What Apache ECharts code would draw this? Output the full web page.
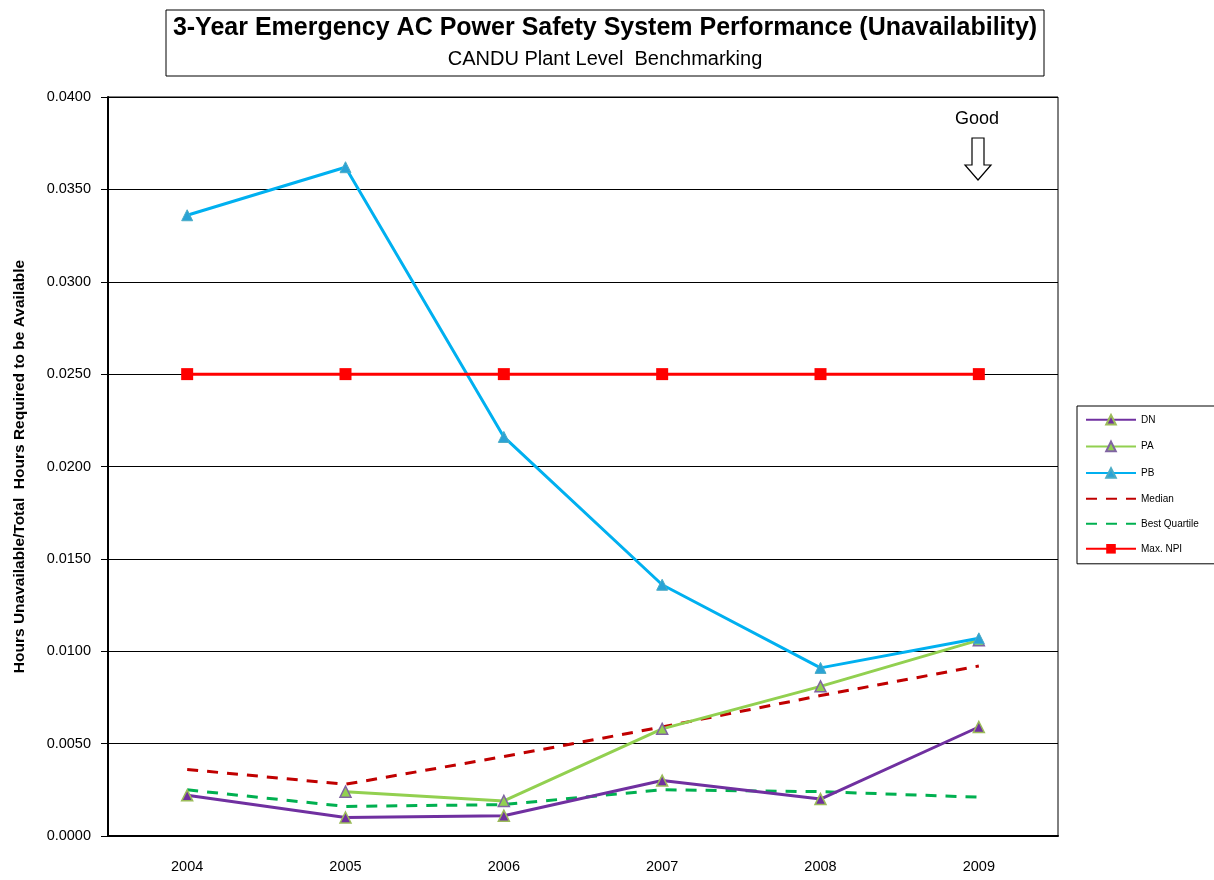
<!DOCTYPE html>
<html>
<head>
<meta charset="utf-8">
<script src="https://cdn.jsdelivr.net/npm/echarts@6/dist/echarts.min.js"></script>
<style>
  html, body { margin: 0; padding: 0; background: #fff; }
  #chart { width: 1214px; height: 880px; }
</style>
</head>
<body>
<div id="chart"></div>
<script>
// categories and series
var years = ['2004', '2005', '2006', '2007', '2008', '2009'];
var dn = [0.0022, 0.0010, 0.0011, 0.0030, 0.0020, 0.0059];
var pa = [null, 0.0024, 0.0019, 0.0058, 0.0081, 0.0106];
var pb = [0.0336, 0.0362, 0.0216, 0.0136, 0.0091, 0.0107];
var median = [0.0036, 0.0028, 0.0043, 0.0059, 0.0076, 0.0092];
var bestQuartile = [0.0025, 0.0016, 0.0017, 0.0025, 0.0024, 0.0021];
var maxNpi = [0.025, 0.025, 0.025, 0.025, 0.025, 0.025];

var FONT = '"Liberation Sans", "Noto Sans", sans-serif';

var myChart = echarts.init(document.getElementById('chart'));

// legend entries; the dashed ones show no marker
var hideMark = { opacity: 0, color: 'rgba(0,0,0,0)', borderWidth: 0 };

var option = {
    animation: false,
    textStyle: { fontFamily: FONT },
    grid: {
        left: 108,
        right: 156,
        top: 97,
        bottom: 44,
        outerBoundsMode: 'none',
        containLabel: false,
        show: true,
        borderColor: '#000',
        borderWidth: 1
    },
    legend: {
        orient: 'vertical',
        left: 1077,
        top: 406,
        width: 136,
        padding: [8, 22, 10, 8],
        itemGap: 15,
        itemWidth: 50,
        itemHeight: 12,
        borderColor: '#000',
        borderWidth: 1,
        textStyle: { fontSize: 10, color: '#000', fontFamily: FONT },
        data: [
            'DN', 'PA', 'PB',
            { name: 'Median', itemStyle: hideMark },
            { name: 'Best Quartile', itemStyle: hideMark },
            'Max. NPI'
        ]
    },
    xAxis: {
        type: 'category',
        data: years,
        boundaryGap: true,
        axisLine: { lineStyle: { color: '#000', width: 2 } },
        axisTick: { length: 6, lineStyle: { color: '#000', width: 1 } },
        axisLabel: { color: '#000', fontSize: 14.5, margin: 23, fontFamily: FONT }
    },
    yAxis: {
        type: 'value',
        min: 0,
        max: 0.04,
        interval: 0.005,
        name: 'Hours Unavailable/Total  Hours Required to be Available',
        nameLocation: 'middle',
        nameGap: 80,
        nameTextStyle: { fontWeight: 'bold', fontSize: 15.5, color: '#000', fontFamily: FONT },
        axisLine: { show: true, lineStyle: { color: '#000', width: 2 } },
        axisTick: { show: true, length: 7, lineStyle: { color: '#000' } },
        axisLabel: {
            color: '#000', fontSize: 14.5, margin: 17, fontFamily: FONT,
            formatter: function (v) { return v.toFixed(4); }
        },
        splitLine: { lineStyle: { color: '#000', width: 1 } }
    },
    graphic: [
        {
            type: 'rect',
            shape: { x: 166, y: 10, width: 878, height: 66 },
            style: { fill: '#fff', stroke: '#000', lineWidth: 1 }
        },
        {
            type: 'text',
            x: 605, y: 28,
            style: {
                text: '3-Year Emergency AC Power Safety System Performance (Unavailability)',
                font: 'bold 25px ' + FONT,
                fill: '#000',
                align: 'center',
                verticalAlign: 'middle'
            }
        },
        {
            type: 'text',
            x: 605, y: 59,
            style: {
                text: 'CANDU Plant Level  Benchmarking',
                font: '20px ' + FONT,
                fill: '#000',
                align: 'center',
                verticalAlign: 'middle'
            }
        },
        {
            type: 'text',
            x: 977, y: 119,
            style: {
                text: 'Good',
                font: '18px ' + FONT,
                fill: '#000',
                align: 'center',
                verticalAlign: 'middle'
            }
        },
        {
            type: 'polygon',
            shape: {
                points: [[972, 138], [984, 138], [984, 165], [991, 165], [978, 180], [965, 165], [972, 165]]
            },
            style: { fill: '#fff', stroke: '#000', lineWidth: 1.2 }
        }
    ],
    series: [
        {
            name: 'DN',
            type: 'line',
            data: dn,
            z: 6,
            symbol: 'triangle',
            symbolSize: 11,
            lineStyle: { color: '#7030A0', width: 3 },
            itemStyle: { color: '#7030A0', borderColor: '#9BBB59', borderWidth: 1.5 }
        },
        {
            name: 'PA',
            type: 'line',
            data: pa,
            z: 5,
            symbol: 'triangle',
            symbolSize: 11,
            lineStyle: { color: '#92D050', width: 3 },
            itemStyle: { color: '#92D050', borderColor: '#8064A2', borderWidth: 1.5 }
        },
        {
            name: 'PB',
            type: 'line',
            data: pb,
            z: 5,
            symbol: 'triangle',
            symbolSize: 11,
            lineStyle: { color: '#00B0F0', width: 3 },
            itemStyle: { color: '#2AA3D6', borderColor: '#4BACC6', borderWidth: 1 }
        },
        {
            name: 'Median',
            type: 'line',
            data: median,
            z: 4,
            symbol: 'none',
            lineStyle: { color: '#C00000', width: 3, type: [11, 9] },
            itemStyle: { color: '#C00000' }
        },
        {
            name: 'Best Quartile',
            type: 'line',
            data: bestQuartile,
            z: 4,
            symbol: 'none',
            lineStyle: { color: '#00B050', width: 3, type: [11, 9] },
            itemStyle: { color: '#00B050' }
        },
        {
            name: 'Max. NPI',
            type: 'line',
            data: maxNpi,
            z: 5,
            symbol: 'rect',
            symbolSize: 12,
            lineStyle: { color: '#FF0000', width: 3 },
            itemStyle: { color: '#FF0000' }
        }
    ]
};

myChart.setOption(option);
window.addEventListener('resize', function () {
    myChart.resize();
});
</script>
</body>
</html>
